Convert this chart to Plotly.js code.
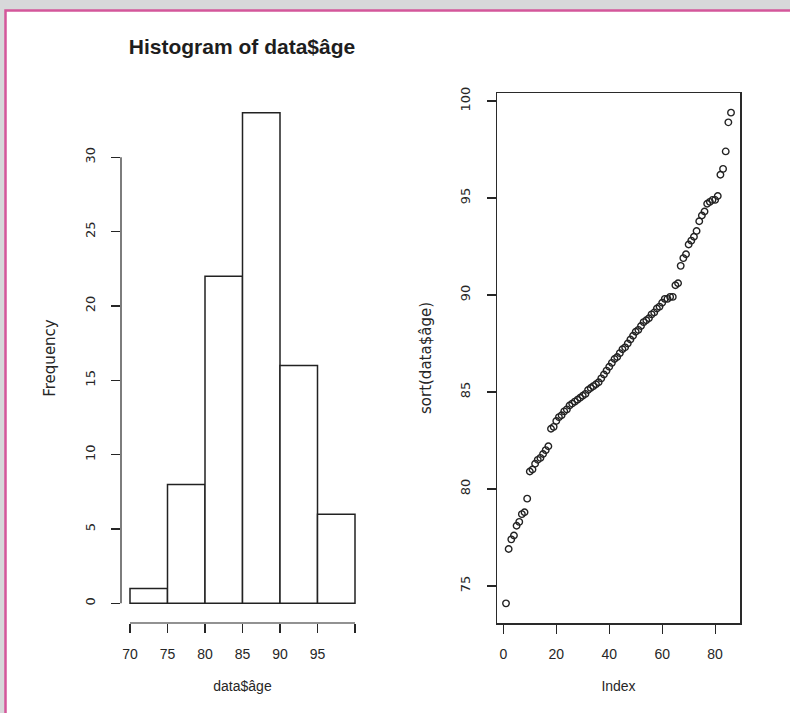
<!DOCTYPE html>
<html>
<head>
<meta charset="utf-8">
<script src="https://cdn.plot.ly/plotly-3.0.1.min.js"></script>
<style>html,body{margin:0;padding:0;background:#fff;}#chart{width:790px;height:713px;}</style>
</head>
<body>
<div id="chart"></div>
<script>
// sorted ages (data$âge)
const ages = [
  74.1,
  76.9, 77.4, 77.6, 78.1, 78.3, 78.7, 78.8, 79.5,
  80.9, 81.0, 81.3, 81.5, 81.6, 81.8, 82.0, 82.2,
  83.1, 83.2, 83.5, 83.7, 83.8, 84.0, 84.1, 84.3, 84.4, 84.5, 84.6, 84.7, 84.8, 84.9,
  85.1, 85.2, 85.3, 85.4, 85.5, 85.7, 85.9, 86.1, 86.3, 86.5, 86.7, 86.8, 87.0, 87.2, 87.3, 87.5,
  87.7, 87.9, 88.1, 88.2, 88.4, 88.6, 88.7, 88.8, 89.0, 89.1, 89.3, 89.4, 89.6, 89.8, 89.8, 89.9, 89.9,
  90.5, 90.6, 91.5, 91.9, 92.1, 92.6, 92.8, 93.0, 93.3, 93.8, 94.1, 94.3, 94.7, 94.8, 94.9, 94.9,
  95.1, 96.2, 96.5, 97.4, 98.9, 99.4
];
const indexVals = [
  1,2,3,4,5,6,7,8,9,10,11,12,13,14,15,16,17,18,19,20,
  21,22,23,24,25,26,27,28,29,30,31,32,33,34,35,36,37,38,39,40,
  41,42,43,44,45,46,47,48,49,50,51,52,53,54,55,56,57,58,59,60,
  61,62,63,64,65,66,67,68,69,70,71,72,73,74,75,76,77,78,79,80,
  81,82,83,84,85,86
];
const binStart = 70, binEnd = 100, binSize = 5;
const histXTicks = [70, 75, 80, 85, 90, 95, 100];
const histXLabels = ['70', '75', '80', '85', '90', '95', ''];
const histYTicks = [0, 5, 10, 15, 20, 25, 30];
const scatXTicks = [0, 20, 40, 60, 80];
const scatYTicks = [75, 80, 85, 90, 95, 100];

const W = 790, H = 713;
const px = v => v / W, py = v => 1 - v / H;
const HFONT = 'Liberation Sans, Arial, sans-serif';
const VFONT = 'DejaVu Sans, Verdana, sans-serif';
const TXT = '#262626';

const traces = [
  {
    type: 'histogram', x: ages, xaxis: 'x', yaxis: 'y',
    autobinx: false, xbins: {start: binStart, end: binEnd, size: binSize},
    marker: {color: '#ffffff', line: {color: '#222', width: 1.5}},
    hoverinfo: 'x+y', showlegend: false
  },
  {
    type: 'scatter', mode: 'markers', x: indexVals, y: ages, xaxis: 'x2', yaxis: 'y2',
    marker: {symbol: 'circle-open', size: 6.5, color: '#222', line: {width: 1.4, color: '#222'}},
    showlegend: false
  }
];

const hTick = {family: HFONT, size: 14, color: TXT};
const hTitle = {family: HFONT, size: 14, color: TXT};
const vTick = {family: VFONT, size: 13, color: TXT};
const vTitle = {family: VFONT, size: 15, color: TXT};

const layout = {
  width: W, height: H,
  margin: {l: 0, r: 0, t: 0, b: 0},
  paper_bgcolor: '#ffffff', plot_bgcolor: 'rgba(0,0,0,0)',
  bargap: 0,
  showlegend: false,
  title: {
    text: '<b>Histogram of data$âge</b>',
    x: px(242), xanchor: 'center', xref: 'paper',
    y: py(47), yanchor: 'middle', yref: 'paper',
    font: {family: 'Liberation Sans, Arial, sans-serif', size: 21, color: '#1e1e1e'}
  },
  xaxis: {
    domain: [px(121), px(364)], range: [68.8, 101.2], anchor: 'y',
    showgrid: false, zeroline: false, showline: false,
    ticks: 'outside', ticklen: 9, tickwidth: 1.2, tickcolor: TXT,
    tickvals: histXTicks, ticktext: histXLabels, tickfont: hTick, ticklabelstandoff: 9,
    title: {text: 'data$âge', font: hTitle, standoff: 20}
  },
  yaxis: {
    domain: [py(623), py(93)], range: [-1.32, 34.32], anchor: 'x',
    showgrid: false, zeroline: false, showline: false,
    ticks: 'outside', ticklen: 9, tickwidth: 1.2, tickcolor: TXT,
    tickvals: histYTicks, tickangle: -90, tickfont: vTick, ticklabelstandoff: 11,
    title: {text: 'Frequency', font: vTitle, standoff: 23}
  },
  xaxis2: {
    domain: [px(497), px(740)], range: [-2.4, 89.4], anchor: 'y2',
    showgrid: false, zeroline: false, showline: true, mirror: true, linecolor: '#2a2a2a', linewidth: 1.5,
    ticks: 'outside', ticklen: 9, tickwidth: 1.2, tickcolor: TXT,
    tickvals: scatXTicks, tickfont: hTick, ticklabelstandoff: 9,
    title: {text: 'Index', font: hTitle, standoff: 20}
  },
  yaxis2: {
    domain: [py(623), py(93)], range: [73.088, 100.412], anchor: 'x2',
    showgrid: false, zeroline: false, showline: true, mirror: true, linecolor: '#2a2a2a', linewidth: 1.5,
    ticks: 'outside', ticklen: 9, tickwidth: 1.2, tickcolor: TXT,
    tickvals: scatYTicks, tickangle: -90, tickfont: vTick, ticklabelstandoff: 11,
    title: {text: 'sort(data$âge)', font: vTitle, standoff: 23}
  },
  shapes: [
    // outer grey page + pink frame
    {type: 'rect', xref: 'paper', yref: 'paper', x0: 0, x1: 1, y0: 0, y1: 1,
     fillcolor: '#d7d8da', line: {width: 0}, layer: 'below'},
    {type: 'rect', xref: 'paper', yref: 'paper', x0: px(5.5), x1: 1.03, y0: -0.03, y1: py(10.5),
     fillcolor: '#ffffff', line: {color: '#d4579b', width: 2.5}, layer: 'below'},
    // R-style detached axis lines of the histogram
    {type: 'line', xref: 'x', yref: 'paper', x0: histXTicks[0], x1: histXTicks[histXTicks.length - 1],
     y0: py(623), y1: py(623), line: {color: TXT, width: 1.2}},
    {type: 'line', xref: 'paper', yref: 'y', x0: px(121), x1: px(121),
     y0: histYTicks[0], y1: histYTicks[histYTicks.length - 1], line: {color: TXT, width: 1.2}}
  ]
};

Plotly.newPlot('chart', traces, layout, {displayModeBar: false, staticPlot: true});
</script>
</body>
</html>
